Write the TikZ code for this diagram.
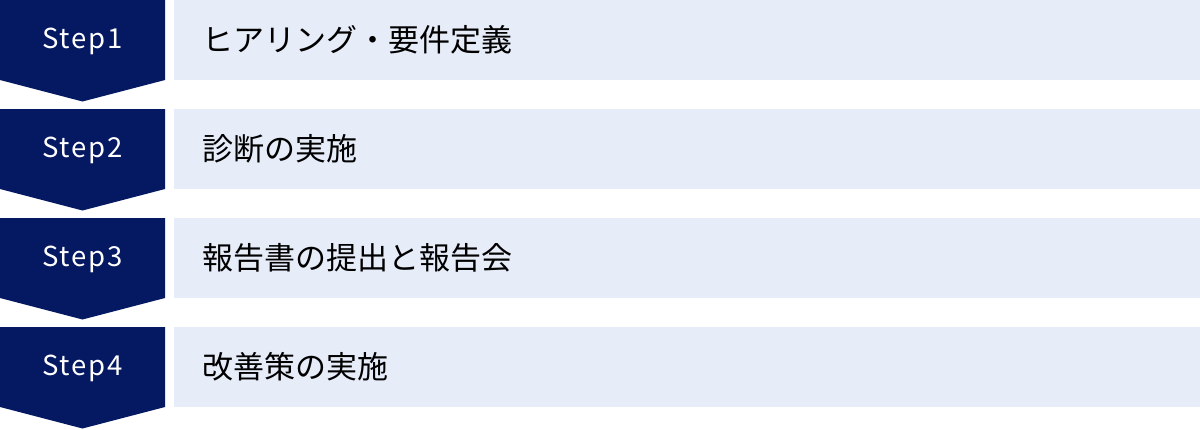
\documentclass[tikz,border=0pt]{standalone}
\usepackage{fontspec}
\setmainfont{Noto Sans CJK JP}
\newfontfamily\stepfont[LetterSpace=6]{Noto Sans CJK JP}
\definecolor{navy}{RGB}{5,24,98}
\definecolor{lightbg}{RGB}{231,236,249}
\begin{document}
\begin{tikzpicture}[x=1pt,y=-1pt,
  steplabel/.style={text=white,font=\stepfont\fontsize{27.5}{32}\selectfont,anchor=center,inner sep=0pt},
  bar/.style={fill=lightbg,draw=none,anchor=north west,minimum width=1026pt,minimum height=80pt,inner sep=0pt},
  bartext/.style={font=\fontsize{31}{36}\selectfont,anchor=west,inner sep=0pt,text=black}]
\useasboundingbox (0,0) rectangle (1200,429);
\foreach \i/\t in {1/ヒアリング・要件定義,2/診断の実施,3/報告書の提出と報告会,4/改善策の実施}{
  \pgfmathsetmacro{\yy}{(\i-1)*109}
  \fill[navy] (0,\yy) -- (165,\yy) -- (165,\yy+80) -- (82.5,\yy+101.5) -- (0,\yy+80) -- cycle;
  \node[steplabel] (s\i) at (82.5,\yy+41) {Step\i};
  \node[bar] (b\i) at (174,\yy) {};
  \node[bartext] (t\i) at ([xshift=28pt]b\i.west) {\t};
}
\end{tikzpicture}
\end{document}
